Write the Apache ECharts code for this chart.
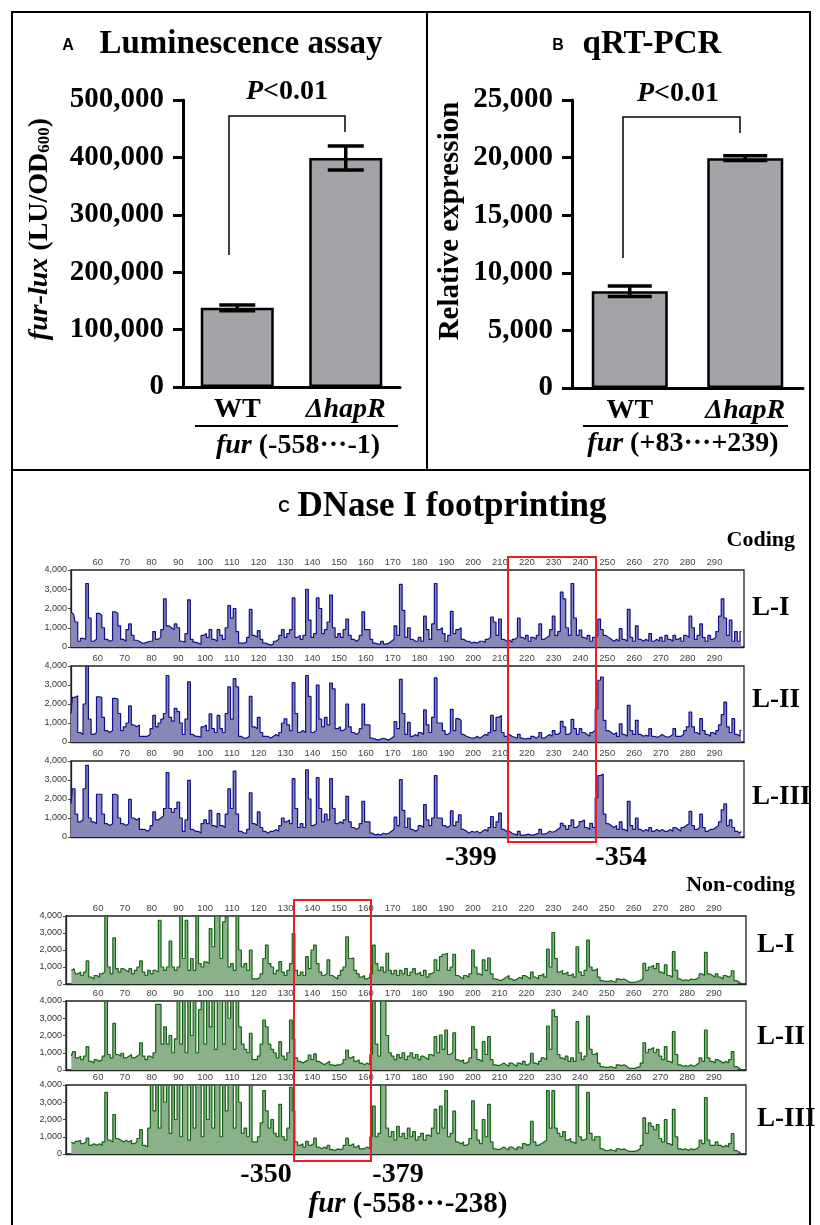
<!DOCTYPE html>
<html><head><meta charset="utf-8">
<script src="https://cdn.jsdelivr.net/npm/echarts@6/dist/echarts.min.js"></script>
<style>html,body{margin:0;padding:0;background:#fff}#c{width:820px;height:1225px}</style>
</head><body><div id="c"></div>
<script>
// ---------- data ----------
const barCategories = ['WT', 'ΔhapR'];
const lumValues = [138000, 399000];
const lumErrors = [5000, 21000];
const qpcrValues = [8400, 19950];
const qpcrErrors = [450, 200];
const baseTicks = [60,70,80,90,100,110,120,130,140,150,160,170,180,190,200,210,220,230,240,250,260,270,280,290];
const traceStart = 50; // first base position of each trace array (one value per base, 50..300)

const codingL1 = [
1800,1700,1300,300,450,400,3300,1500,300,400,
1750,1650,1000,400,300,350,1830,1740,1100,400,
300,900,1200,600,350,300,200,200,250,300,
300,800,400,500,900,2500,1100,1000,900,1200,
1000,300,250,700,2450,400,250,200,150,600,
700,500,900,400,300,900,600,400,1000,2150,
1500,2000,800,200,200,250,500,1950,600,500,
850,400,200,150,100,150,300,400,600,900,
500,700,900,2550,500,600,400,600,3000,1400,
500,700,2550,2000,700,900,1300,2700,1000,500,
700,500,900,1450,600,400,300,400,600,1830,
900,900,400,200,150,150,300,150,200,300,
400,1100,600,3250,1900,500,1000,400,300,300,
500,300,1600,900,400,1200,3300,900,1000,700,
300,600,1850,700,900,1000,400,300,300,200,
250,200,300,300,250,400,500,1550,1300,600,
1450,400,300,350,250,400,500,1500,500,400,
600,300,500,400,600,1200,400,500,600,900,
1600,600,800,2850,2500,1000,600,3300,1500,600,
880,500,400,600,300,500,600,1450,900,600,
500,400,300,400,300,950,400,300,1950,500,
300,1100,400,300,400,300,700,300,400,300,
500,300,600,400,300,600,400,500,300,600,
500,1600,1000,400,600,1200,500,300,600,400,
500,800,1600,2500,1500,600,1400,300,800,300,
800];
const codingL2 = [
1500,2350,2430,500,400,2000,4000,1200,400,500,
2380,2350,1300,600,500,600,2300,2260,1500,600,
800,1000,1900,900,800,900,300,300,300,400,
700,1400,800,1000,1200,1500,3500,1300,1100,1770,
1600,1000,400,1200,3170,400,300,300,250,800,
900,600,1480,700,500,1400,700,500,1500,2900,
1200,3340,2900,300,200,200,300,2400,800,700,
1300,500,300,300,200,300,400,300,500,1000,
1220,900,600,3130,1500,500,600,500,3500,2400,
500,600,3000,1200,800,1300,900,3100,2800,700,
800,600,700,2000,800,500,400,500,700,2000,
900,900,200,150,100,150,200,150,100,200,
300,1080,700,3300,1500,400,1040,300,400,300,
500,400,1690,900,500,1300,3370,1000,1000,600,
400,500,1720,600,1230,1140,400,300,250,200,
200,300,200,300,400,350,500,1400,600,1300,
1400,500,300,400,300,250,200,400,200,150,
200,150,300,200,300,500,200,300,400,300,
600,400,500,1090,800,400,500,1190,700,400,
700,500,400,300,500,600,1750,3250,3420,1140,
600,500,400,500,300,960,400,300,1930,600,
400,1140,400,300,350,300,700,300,250,300,
400,300,250,300,400,700,300,300,400,600,
800,1580,800,500,400,1230,600,400,300,500,
400,600,900,1440,2100,800,500,1230,400,300,
610];
const codingL3 = [
1750,2540,1200,800,900,2540,3770,1000,800,700,
2250,2250,1200,700,600,700,2250,2190,1000,700,
600,700,1980,1000,900,1000,400,400,300,400,
600,1320,900,1000,1100,1500,3390,1500,1300,1500,
1840,1000,300,900,2980,400,300,300,200,700,
900,700,1400,600,500,1230,600,500,1200,2540,
1500,3470,1200,300,200,200,400,2330,700,600,
1320,500,300,200,300,300,400,300,600,1000,
800,900,700,3070,1500,500,700,500,3540,2000,
600,700,3120,1500,800,1200,900,3070,1500,700,
800,700,900,2140,800,500,400,500,700,1880,
800,800,200,100,150,100,200,150,200,300,
400,1050,600,3020,1400,500,1000,400,300,400,
600,500,1700,900,600,1000,3230,1000,1000,600,
500,600,1380,600,800,1170,400,300,200,300,
250,300,200,300,400,300,500,1080,500,800,
1260,400,300,300,200,150,100,300,100,100,
150,100,100,150,200,400,150,200,300,250,
300,400,500,720,600,400,600,900,500,600,
810,900,500,400,720,500,2060,3230,3320,1200,
700,600,500,600,400,800,400,300,1880,600,
400,1000,400,300,400,300,500,300,400,300,
400,300,300,400,300,500,400,300,500,600,
700,1350,600,400,500,1200,500,300,400,400,
500,600,800,1430,1740,600,900,500,300,200,
300];
const noncodingL1 = [
800,900,600,700,500,700,1360,400,300,500,
400,600,700,4000,1000,600,2720,900,700,900,
800,700,900,600,800,1000,1360,700,500,800,
600,800,700,3750,1000,800,1000,2520,1000,800,
1000,4000,1500,3750,800,1500,800,4000,1200,1000,
1300,1200,3260,2190,4000,4000,1500,3650,3940,1000,
1200,800,4000,2000,1000,1200,800,2000,300,300,
400,600,1500,2290,1200,1000,600,800,1320,700,
500,800,1200,2970,800,500,700,500,1610,900,
2000,2290,1200,700,500,600,1420,500,400,300,
500,800,1000,2780,1500,1520,800,600,400,500,
300,400,600,2290,1200,800,1000,700,1810,800,
600,800,500,800,600,900,500,700,900,600,
700,500,800,400,600,700,1420,800,1610,1750,
1810,800,1000,1750,500,400,300,500,400,600,
2000,1000,600,500,1420,800,1520,600,300,250,
200,300,400,500,300,200,300,400,300,500,
400,300,700,400,300,500,600,400,2060,1000,
3030,1500,700,800,600,700,500,600,400,2190,
700,500,800,2580,1000,800,900,400,200,150,
150,200,150,100,300,250,300,200,100,100,
100,150,200,300,1220,800,1000,1100,900,1200,
700,600,1130,500,400,1900,800,300,200,250,
200,300,250,300,400,600,500,1860,600,500,
400,600,400,300,500,400,500,780,200,100,
100];
const noncodingL2 = [
800,1060,700,800,600,800,1350,500,400,600,
500,600,800,4000,900,700,2700,900,800,970,
700,800,900,700,800,900,1580,800,600,800,
700,1000,3800,3800,1500,2500,1500,2000,1000,1800,
4000,1500,4000,1000,4000,2000,4000,1000,3500,4000,
1500,4000,2500,4000,1200,4000,4000,1500,4000,3000,
4000,1200,4000,2500,1500,1200,1000,2130,600,600,
800,1500,2900,2500,1500,1200,1000,700,1640,800,
600,1000,2900,1800,700,500,400,500,580,870,
600,930,500,400,300,400,500,300,250,300,
300,400,600,1160,700,800,500,600,400,300,
400,300,900,4000,1500,800,4000,4000,2000,1000,
800,600,900,700,1000,600,800,1000,700,900,
600,800,700,600,900,800,1930,1000,2030,1200,
2320,900,1000,2160,600,500,600,400,500,700,
2510,1200,600,500,1640,900,1930,600,300,250,
300,400,300,200,400,300,200,400,300,500,
300,400,970,400,300,500,700,600,2550,1200,
3480,3090,900,700,600,800,500,700,500,2800,
1000,600,800,3130,1200,900,1000,400,200,150,
150,200,150,100,300,250,300,200,100,100,
100,150,200,400,1580,1000,1200,1300,1000,1200,
800,600,1350,500,400,2220,900,300,200,250,
200,300,200,300,400,700,500,2320,700,500,
400,600,500,400,500,400,600,1060,200,100,
100];
const noncodingL3 = [
700,600,730,800,600,700,920,500,600,500,
600,500,700,3570,800,700,2290,900,800,700,
800,700,800,600,700,900,1410,500,400,1500,
4000,2500,4000,1500,4000,3000,4000,1200,4000,2000,
4000,1000,4000,4000,800,4000,1500,4000,4000,1000,
4000,2000,4000,1500,4000,4000,1000,4000,2500,4000,
4000,1500,4000,3000,1200,1500,1000,4000,700,700,
1000,1800,3670,2500,1500,2000,1200,1000,2880,1000,
800,1500,3860,2500,700,500,600,400,730,500,
600,920,400,300,400,300,500,250,200,300,
250,300,500,920,500,600,400,500,300,300,
400,300,1000,2780,1000,1200,4000,4000,1500,1000,
1300,800,1600,1000,1200,900,1500,1000,1300,800,
1000,1200,800,1100,1000,1500,2590,1200,2780,1500,
3670,1000,1200,2490,700,600,700,500,600,900,
3080,1400,800,600,2000,1000,2880,700,300,250,
300,400,300,250,400,300,250,400,300,600,
500,600,1900,700,500,600,700,800,3670,1500,
3670,1500,1200,1000,1300,800,900,700,600,4000,
1000,800,900,3570,1200,800,1000,1000,300,200,
200,250,200,150,300,250,300,200,150,150,
150,200,300,500,2100,1200,1800,1600,1400,1700,
900,700,2000,600,500,2590,1000,300,250,300,
200,300,250,300,400,800,600,3270,800,500,
500,700,500,400,500,400,600,1180,200,100,
100];

// ---------- styles ----------
const SERIF = "'Liberation Serif','Times New Roman',serif";
const SANS = "'Liberation Sans',Arial,sans-serif";

const chart = echarts.init(document.getElementById('c'), null, {renderer: 'canvas'});

const gridBox = {show: true, borderColor: '#222', borderWidth: 1.3};
const grids = [
  {left: 183, top: 100, width: 217, height: 287},
  {left: 572, top: 100, width: 231, height: 288},
  Object.assign({left: 71, top: 570, width: 673, height: 77}, gridBox),
  Object.assign({left: 71, top: 666, width: 673, height: 76}, gridBox),
  Object.assign({left: 71, top: 761, width: 673, height: 76}, gridBox),
  Object.assign({left: 66, top: 916, width: 680, height: 68}, gridBox),
  Object.assign({left: 66, top: 1001, width: 680, height: 69}, gridBox),
  Object.assign({left: 66, top: 1085, width: 680, height: 69}, gridBox)
];

function catAxis(gi) {
  return {
    type: 'category', gridIndex: gi, data: barCategories,
    axisLine: {lineStyle: {color: '#000', width: 3}},
    axisTick: {show: false},
    axisLabel: {
      margin: 9, color: '#000',
      formatter: v => v === 'WT' ? '{n|WT}' : '{i|' + v + '}',
      rich: {
        n: {fontFamily: SERIF, fontWeight: 'bold', fontSize: 28, color: '#000'},
        i: {fontFamily: SERIF, fontWeight: 'bold', fontStyle: 'italic', fontSize: 28, color: '#000'}
      }
    }
  };
}
function barValAxis(gi, max, interval) {
  return {
    type: 'value', gridIndex: gi, min: 0, max: max, interval: interval,
    axisLine: {show: true, lineStyle: {color: '#000', width: 3}},
    axisTick: {show: true, length: 10, lineStyle: {color: '#000', width: 3}},
    splitLine: {show: false},
    axisLabel: {
      margin: 19, color: '#000', fontFamily: SERIF, fontWeight: 'bold', fontSize: 29,
      formatter: v => v.toLocaleString('en-US')
    }
  };
}
function traceXAxis(gi, min, max) {
  return {
    type: 'value', gridIndex: gi, min: min, max: max, position: 'top',
    axisLine: {show: true, lineStyle: {color: '#222', width: 1.3}},
    axisTick: {show: true, customValues: baseTicks, length: 2, lineStyle: {color: '#666'}},
    splitLine: {show: false},
    axisLabel: {customValues: baseTicks, margin: 3, fontSize: 9.5, color: '#444', fontFamily: SANS}
  };
}
function traceYAxis(gi) {
  return {
    type: 'value', gridIndex: gi, min: 0, max: 4000, interval: 1000,
    axisLine: {show: true, lineStyle: {color: '#222', width: 1.3}},
    axisTick: {show: true, length: 3, lineStyle: {color: '#444'}},
    splitLine: {show: false},
    axisLabel: {margin: 4, fontSize: 9, color: '#333', fontFamily: SANS,
      formatter: v => v.toLocaleString('en-US')}
  };
}

function barSeries(ai, vals, w) {
  return {
    type: 'bar', xAxisIndex: ai, yAxisIndex: ai, data: vals, barWidth: w,
    itemStyle: {color: '#a3a3a8', borderColor: '#000', borderWidth: 2.5},
    silent: true
  };
}
function errorSeries(ai, vals, errs, hw) {
  return {
    type: 'custom', xAxisIndex: ai, yAxisIndex: ai, z: 5, silent: true,
    data: vals.map((v, i) => [i, v - errs[i], v + errs[i]]),
    renderItem: function (params, api) {
      const lo = api.coord([api.value(0), api.value(1)]);
      const hi = api.coord([api.value(0), api.value(2)]);
      const st = {stroke: '#000', lineWidth: 3.5};
      return {type: 'group', children: [
        {type: 'line', shape: {x1: lo[0], y1: lo[1], x2: hi[0], y2: hi[1]}, style: st},
        {type: 'line', shape: {x1: lo[0] - hw, y1: lo[1], x2: lo[0] + hw, y2: lo[1]}, style: st},
        {type: 'line', shape: {x1: hi[0] - hw, y1: hi[1], x2: hi[0] + hw, y2: hi[1]}, style: st}
      ]};
    }
  };
}
function traceSeries(ai, arr, lineColor, fillColor) {
  return {
    type: 'line', xAxisIndex: ai, yAxisIndex: ai, step: 'middle', symbol: 'none', silent: true,
    data: arr.map((v, i) => [traceStart + i, v]),
    lineStyle: {color: lineColor, width: 1.2},
    areaStyle: {color: fillColor, opacity: 1},
    clip: true
  };
}

const BLUE_L = '#10108e', BLUE_F = '#8888b8';
const GREEN_L = '#136413', GREEN_F = '#8bb18b';

function txt(text, x, y, size, opts) {
  opts = opts || {};
  return {
    type: 'text', x: x, y: y, rotation: opts.rot || 0, silent: true,
    style: {
      text: text, fill: '#000',
      font: (opts.italic ? 'italic ' : '') + 'bold ' + size + 'px ' + (opts.family || SERIF),
      align: opts.align || 'center', verticalAlign: 'middle',
      rich: opts.rich
    }
  };
}
const richItalic = (size) => ({
  i: {fontFamily: SERIF, fontWeight: 'bold', fontStyle: 'italic', fontSize: size, fill: '#000'},
  n: {fontFamily: SERIF, fontWeight: 'bold', fontSize: size, fill: '#000'},
  s: {fontFamily: SERIF, fontWeight: 'bold', fontSize: Math.round(size * 0.62), fill: '#000', padding: [10, 0, 0, 0]}
});
const line = (x1, y1, x2, y2, w, c) => ({type: 'line', silent: true,
  shape: {x1, y1, x2, y2}, style: {stroke: c || '#000', lineWidth: w}});
const poly = (pts, w) => ({type: 'polyline', silent: true, shape: {points: pts}, style: {stroke: '#000', lineWidth: w, fill: null}});

const graphics = [
  {type: 'rect', silent: true, shape: {x: 12, y: 12, width: 798, height: 1240}, style: {fill: 'none', stroke: '#000', lineWidth: 2}},
  line(427, 12, 427, 470, 2),
  line(12, 470, 810, 470, 2),
  // panel A
  txt('A', 68, 46, 16, {family: SANS}),
  txt('Luminescence assay', 241, 44, 33),
  txt('{i|P}{n|<0.01}', 287, 92, 28, {rich: richItalic(28)}),
  txt('{i|fur-lux}{n| (LU/OD}{s|600}{n|)}', 40, 229, 28, {rot: Math.PI / 2, rich: richItalic(28)}),
  poly([[229, 255], [229, 116], [345, 116], [345, 132]], 1.5),
  line(195, 426, 398, 426, 2),
  txt('{i|fur}{n| (-558···-1)}', 298, 446, 28, {rich: richItalic(28)}),
  // panel B
  txt('B', 558, 46, 16, {family: SANS}),
  txt('qRT-PCR', 652, 44, 33),
  txt('{i|P}{n|<0.01}', 678, 94, 28, {rich: richItalic(28)}),
  txt('Relative expression', 451, 221, 29, {rot: Math.PI / 2}),
  poly([[623, 258], [623, 117], [740, 117], [740, 133]], 1.5),
  line(583, 426, 788, 426, 2),
  txt('{i|fur}{n| (+83···+239)}', 683, 444, 28, {rich: richItalic(28)}),
  // panel C
  txt('C', 284, 508, 16, {family: SANS}),
  txt('DNase I footprinting', 452, 507, 35),
  txt('Coding', 795, 540, 22, {align: 'right'}),
  txt('L-I', 752, 608, 27, {align: 'left'}),
  txt('L-II', 752, 700, 27, {align: 'left'}),
  txt('L-III', 752, 797, 27, {align: 'left'}),
  txt('-399', 471, 858, 28),
  txt('-354', 621, 858, 28),
  txt('Non-coding', 795, 885, 22, {align: 'right'}),
  txt('L-I', 757, 945, 27, {align: 'left'}),
  txt('L-II', 757, 1037, 27, {align: 'left'}),
  txt('L-III', 757, 1119, 27, {align: 'left'}),
  txt('-350', 266, 1175, 28),
  txt('-379', 398, 1175, 28),
  txt('{i|fur}{n| (-558···-238)}', 408, 1205, 29, {rich: richItalic(29)}),
  {type: 'rect', silent: true, z: 100, shape: {x: 508, y: 557, width: 88, height: 285}, style: {fill: 'none', stroke: '#ee1c24', lineWidth: 2}},
  {type: 'rect', silent: true, z: 100, shape: {x: 294, y: 900, width: 77, height: 261}, style: {fill: 'none', stroke: '#ee1c24', lineWidth: 2}}
];

const option = {
  animation: false,
  backgroundColor: '#fff',
  grid: grids,
  xAxis: [
    catAxis(0), catAxis(1),
    traceXAxis(2, 50, 301), traceXAxis(3, 50, 301), traceXAxis(4, 50, 301),
    traceXAxis(5, 48, 302), traceXAxis(6, 48, 302), traceXAxis(7, 48, 302)
  ],
  yAxis: [
    barValAxis(0, 500000, 100000), barValAxis(1, 25000, 5000),
    traceYAxis(2), traceYAxis(3), traceYAxis(4), traceYAxis(5), traceYAxis(6), traceYAxis(7)
  ],
  series: [
    barSeries(0, lumValues, 73), errorSeries(0, lumValues, lumErrors, 18),
    barSeries(1, qpcrValues, 76), errorSeries(1, qpcrValues, qpcrErrors, 22),
    traceSeries(2, codingL1, BLUE_L, BLUE_F),
    traceSeries(3, codingL2, BLUE_L, BLUE_F),
    traceSeries(4, codingL3, BLUE_L, BLUE_F),
    traceSeries(5, noncodingL1, GREEN_L, GREEN_F),
    traceSeries(6, noncodingL2, GREEN_L, GREEN_F),
    traceSeries(7, noncodingL3, GREEN_L, GREEN_F)
  ],
  graphic: graphics
};
chart.setOption(option);
</script></body></html>
